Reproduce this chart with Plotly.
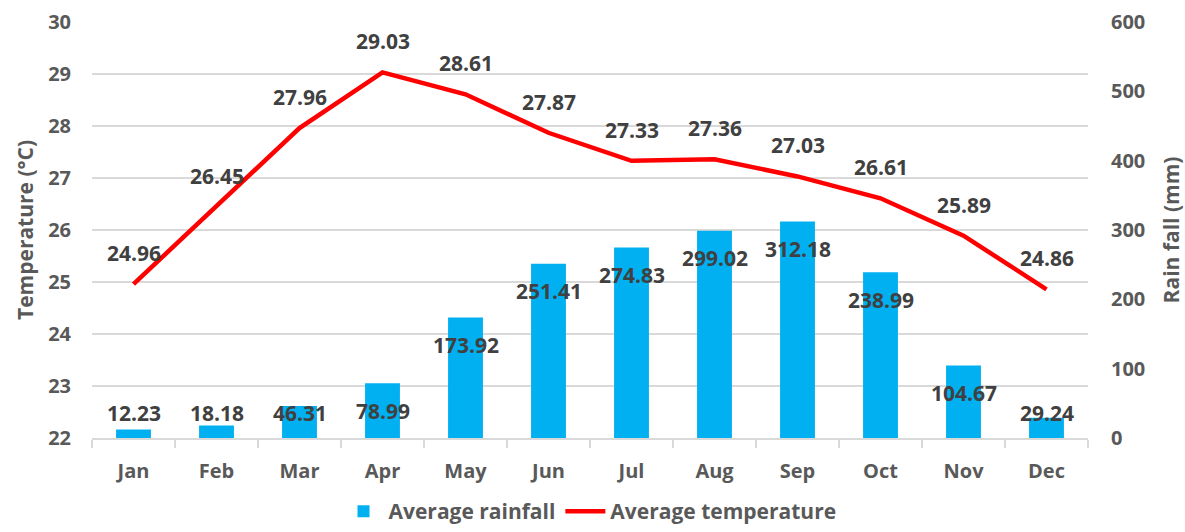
import plotly.graph_objects as go

# Monthly climate normals
months = ["Jan", "Feb", "Mar", "Apr", "May", "Jun",
          "Jul", "Aug", "Sep", "Oct", "Nov", "Dec"]
rainfall_mm = [12.23, 18.18, 46.31, 78.99, 173.92, 251.41,
               274.83, 299.02, 312.18, 238.99, 104.67, 29.24]
temperature_c = [24.96, 26.45, 27.96, 29.03, 28.61, 27.87,
                 27.33, 27.36, 27.03, 26.61, 25.89, 24.86]

FONT = "Open Sans"
LABEL_COLOR = "#404040"
AXIS_COLOR = "#595959"
GRID_COLOR = "#D9D9D9"

fig = go.Figure()

fig.add_trace(go.Bar(
    x=months, y=rainfall_mm, yaxis="y2", name="Average rainfall",
    marker=dict(color="#00B0F0", line=dict(width=0)), width=0.42,
))
fig.add_trace(go.Scatter(
    x=months, y=temperature_c, yaxis="y", name="Average temperature",
    mode="lines", line=dict(color="#FF0000", width=4.5),
))

label_font = dict(family=FONT, size=21, color=LABEL_COLOR, weight="bold")

annotations = []
# Temperature labels sit above each point of the line
for m, t in zip(months, temperature_c):
    annotations.append(dict(
        x=m, y=t, xref="x", yref="y", yshift=31, showarrow=False,
        text=f"{t:.2f}", font=label_font,
    ))
# Rainfall labels sit just inside the bar end, lifted clear of the axis for short bars
for m, r in zip(months, rainfall_mm):
    annotations.append(dict(
        x=m, y=max(r - 40, 36), xref="x", yref="y2", showarrow=False,
        text=f"{r:.2f}", font=label_font,
    ))

tick_font = dict(family=FONT, size=20, color=AXIS_COLOR, weight="bold")
title_font = dict(family=FONT, size=21, color=AXIS_COLOR, weight="bold")

fig.update_layout(
    width=1185, height=532,
    margin=dict(l=92, r=97, t=22, b=94, autoexpand=False),
    paper_bgcolor="white", plot_bgcolor="white",
    font=dict(family=FONT, color=AXIS_COLOR),
    showlegend=True,
    legend=dict(
        orientation="h", x=0.5, xanchor="center",
        yref="container", y=0.0, yanchor="bottom",
        font=dict(family=FONT, size=21, color=AXIS_COLOR, weight="bold"),
        itemwidth=40, traceorder="normal", tracegroupgap=0,
    ),
    xaxis=dict(
        type="category", tickfont=tick_font, automargin=False,
        showline=True, linecolor=GRID_COLOR, linewidth=2,
        ticks="outside", tickson="boundaries", ticklen=8, tickcolor=GRID_COLOR,
        tickwidth=2, showgrid=False, ticklabelstandoff=14,
    ),
    yaxis=dict(
        range=[22, 30], dtick=1, side="left", automargin=False,
        showgrid=True, gridcolor=GRID_COLOR, gridwidth=2,
        zeroline=False, showline=False,
        tickfont=tick_font, ticklabelstandoff=20,
        title=dict(text="Temperature (°C)", standoff=8, font=title_font),
    ),
    yaxis2=dict(
        range=[0, 600], dtick=100, side="right", overlaying="y", automargin=False,
        showgrid=False, zeroline=False, showline=False,
        tickfont=tick_font, ticklabelstandoff=22,
        title=dict(text="Rain fall (mm)", standoff=20, font=title_font),
    ),
    annotations=annotations,
)

fig.write_html("out.html")
